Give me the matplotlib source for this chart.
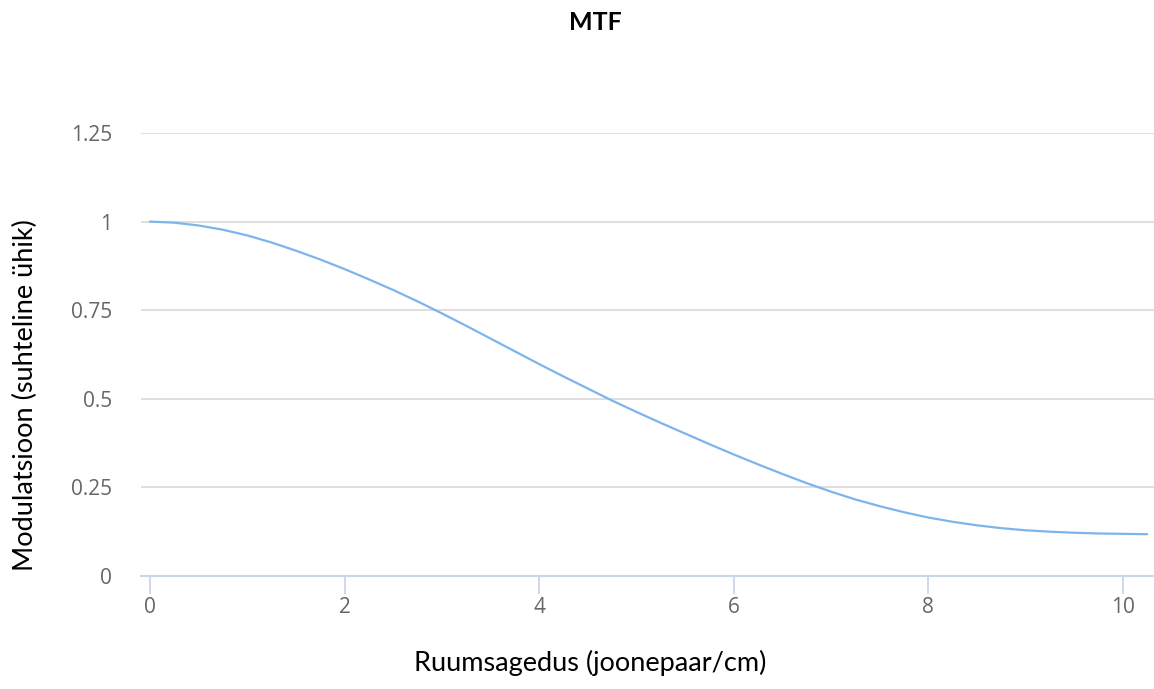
import matplotlib
matplotlib.use("Agg")
import matplotlib.pyplot as plt

# MTF curve: spatial frequency (line pairs / cm) vs relative modulation
freq = [0.0, 0.25, 0.5, 0.75, 1.0, 1.25, 1.5, 1.75, 2.0, 2.25, 2.5, 2.75,
        3.0, 3.25, 3.5, 3.75, 4.0, 4.25, 4.5, 4.75, 5.0, 5.25, 5.5, 5.75,
        6.0, 6.25, 6.5, 6.75, 7.0, 7.25, 7.5, 7.75, 8.0, 8.25, 8.5, 8.75,
        9.0, 9.25, 9.5, 9.75, 10.0, 10.25]
modulation = [1.000, 0.997, 0.989, 0.977, 0.961, 0.941, 0.918, 0.893, 0.866,
              0.837, 0.807, 0.775, 0.741, 0.706, 0.670, 0.634, 0.598, 0.563,
              0.529, 0.495, 0.463, 0.432, 0.402, 0.372, 0.343, 0.315, 0.288,
              0.262, 0.238, 0.216, 0.197, 0.180, 0.165, 0.153, 0.143, 0.135,
              0.129, 0.125, 0.122, 0.120, 0.119, 0.118]

x_ticks = [0, 2, 4, 6, 8, 10]
y_ticks = [0, 0.25, 0.5, 0.75, 1, 1.25]
y_tick_labels = ["0", "0.25", "0.5", "0.75", "1", "1.25"]

plt.rcParams["font.family"] = ["Open Sans", "DejaVu Sans"]

W, H = 1154, 689
fig = plt.figure(figsize=(W / 100, H / 100), dpi=100)
ax = fig.add_axes([141 / W, 1 - 576 / H, (1154 - 141) / W, (576 - 133) / H])

ax.plot(freq, modulation, color="#7cb5ec", lw=1.6, solid_capstyle="round",
        zorder=3)

ax.set_xlim(-0.0925, 10.32)
ax.set_ylim(0, 1.25)
ax.set_xticks(x_ticks)
ax.set_yticks(y_ticks)
ax.set_yticklabels(y_tick_labels)

ax.grid(axis="y", color="#d9d9d9", lw=1.2, zorder=0)
ax.set_axisbelow(True)
for side in ("top", "right", "left"):
    ax.spines[side].set_visible(False)
ax.spines["bottom"].set_color("#ccd6eb")
ax.spines["bottom"].set_linewidth(1.5)

ax.tick_params(axis="y", length=0, pad=21, labelcolor="#666666",
               labelsize=15)
ax.tick_params(axis="x", length=13, width=1.3, color="#ccd6eb", pad=2,
               labelcolor="#666666", labelsize=15)

label_font = ["Lato", "DejaVu Sans"]
fig.text(595 / W, 1 - 22 / H, "MTF", ha="center", va="center",
         fontsize=18, fontweight="bold", family=label_font, color="#000000")
fig.text(590 / W, 1 - 663 / H, "Ruumsagedus (joonepaar/cm)", ha="center",
         va="center", fontsize=19.5, family=label_font, color="#000000")
fig.text(25 / W, 1 - 395 / H, "Modulatsioon (suhteline ühik)", ha="center",
         va="center", rotation=90, fontsize=19.5, family=label_font,
         color="#000000")

fig.savefig("out.png", dpi=100)
